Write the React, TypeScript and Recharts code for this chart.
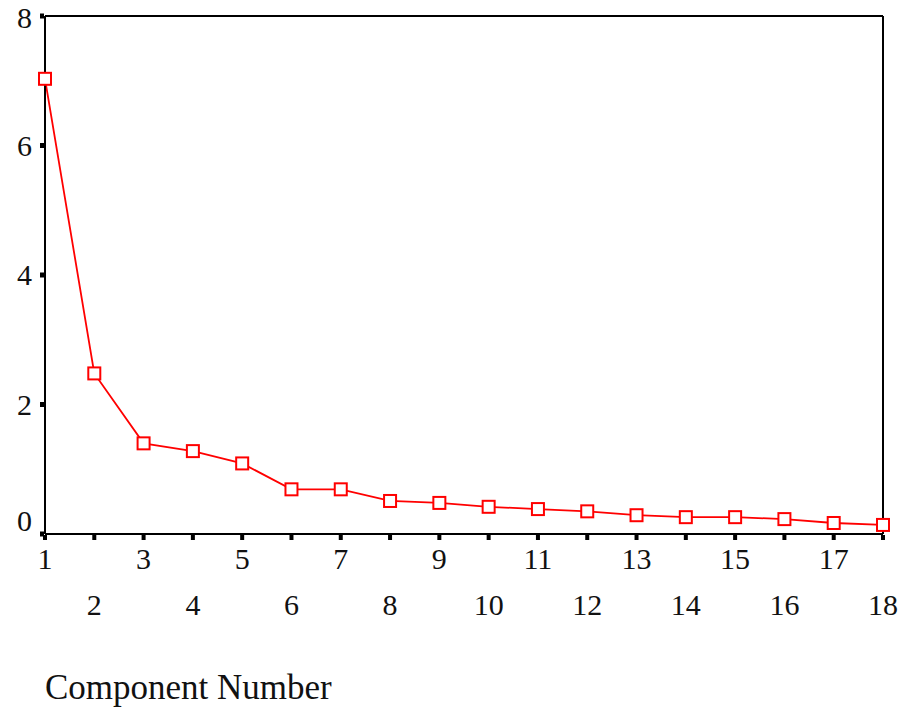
import React from 'react';
import { LineChart, Line, XAxis, YAxis, ReferenceLine } from 'recharts';

// Scree plot: eigenvalue per component
const components = [1, 2, 3, 4, 5, 6, 7, 8, 9, 10, 11, 12, 13, 14, 15, 16, 17, 18];
const eigenvalues = [7.03, 2.48, 1.4, 1.28, 1.09, 0.69, 0.69, 0.51, 0.48, 0.42, 0.385, 0.35, 0.29, 0.26, 0.26, 0.23, 0.17, 0.14];
const yTicks = [0, 2, 4, 6, 8];

const FONT = '"Liberation Serif", "Times New Roman", serif';

const data = components.map((c, i) => ({ component: c, value: eigenvalues[i] }));

const XTick = ({ x, y, payload }: any) => {
  const v = payload.value;
  const odd = v % 2 === 1;
  return (
    <g>
      <rect x={x - 2} y={y + 1} width={4} height={5} fill="#000" />
      <text x={x} y={odd ? y + 35 : y + 81} textAnchor="middle" fontFamily={FONT} fontSize={30} fill="#111">
        {v}
      </text>
    </g>
  );
};

const YTick = ({ x, y, payload }: any) => {
  const v = payload.value;
  const baseline = v === 0 ? y - 3 : v === 8 ? y + 12 : y + 10;
  return (
    <g>
      <rect x={x - 5} y={y - 2.5} width={4} height={5} fill="#000" />
      <text x={x - 13} y={baseline} textAnchor="end" fontFamily={FONT} fontSize={30} fill="#111">
        {v}
      </text>
    </g>
  );
};

const SquareDot = ({ cx, cy }: any) => (
  <rect x={cx - 6} y={cy - 6} width={12} height={12} fill="#fff" stroke="#ff0000" strokeWidth={2} />
);

const AxisTitle = () => (
  <text x={45} y={699} fontFamily={FONT} fontSize={35} fill="#111">
    Component Number
  </text>
);

const App: React.FC = () => {
  return (
    <div style={styles.page}>
      <LineChart width={904} height={708} data={data} margin={{ top: 16, right: 21, bottom: 0, left: 0 }}>
        <XAxis
          type="number"
          dataKey="component"
          domain={[1, 18]}
          ticks={components}
          interval={0}
          height={174}
          tickSize={0}
          tickMargin={0}
          tickLine={false}
          axisLine={{ stroke: '#000', strokeWidth: 2 }}
          tick={<XTick />}
          label={<AxisTitle />}
        />
        <YAxis
          type="number"
          domain={[0, 8]}
          ticks={yTicks}
          interval={0}
          width={45}
          tickSize={0}
          tickMargin={0}
          tickLine={false}
          axisLine={{ stroke: '#000', strokeWidth: 2 }}
          tick={<YTick />}
        />
        <ReferenceLine y={8} stroke="#000" strokeWidth={2} />
        <ReferenceLine x={18} stroke="#000" strokeWidth={2} />
        <Line
          type="linear"
          dataKey="value"
          stroke="#ff0000"
          strokeWidth={1.8}
          dot={<SquareDot />}
          activeDot={false}
          isAnimationActive={false}
        />
      </LineChart>
    </div>
  );
};

const styles: Record<string, React.CSSProperties> = {
  page: {
    position: 'absolute',
    left: 0,
    top: 0,
    width: 904,
    height: 708,
    background: '#fff',
  },
};

export default App;
